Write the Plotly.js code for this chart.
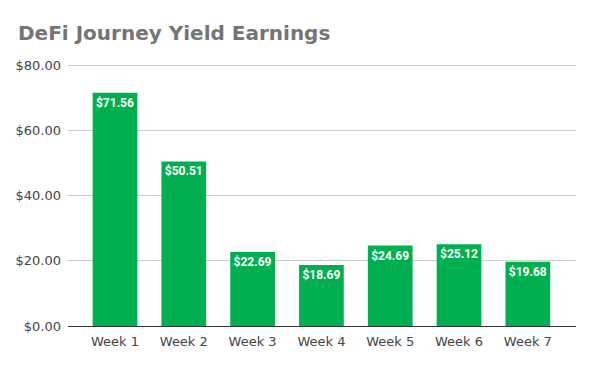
<!DOCTYPE html>
<html><head><meta charset="utf-8">
<script src="https://cdn.plot.ly/plotly-3.0.1.min.js"></script>
<style>body{margin:0;padding:0;background:#fff}#chart{width:593px;height:367px}</style>
</head><body><div id="chart"></div>
<script>
const weeks = ["Week 1","Week 2","Week 3","Week 4","Week 5","Week 6","Week 7"];
const earnings = [71.56, 50.51, 22.69, 18.69, 24.69, 25.12, 19.68];
const yTicks = [0, 20, 40, 60, 80];
const yTickLabels = ["$0.00","$20.00","$40.00","$60.00","$80.00"];

Plotly.newPlot('chart', [{
  type: 'bar',
  x: weeks,
  y: earnings,
  width: 0.65,
  marker: {color: '#00b050'},
  text: earnings.map(v => '$' + v.toFixed(2)),
  textposition: 'inside',
  insidetextanchor: 'end',
  textangle: 0,
  textfont: {family: 'Roboto, sans-serif', size: 12, color: '#ffffff', weight: 'bold'},
  hoverinfo: 'none'
}], {
  width: 593, height: 367,
  margin: {l: 68, r: 17, t: 64, b: 41},
  paper_bgcolor: '#fff', plot_bgcolor: '#fff',
  title: {text: 'DeFi Journey Yield Earnings', x: 18/593, xanchor: 'left', y: 1 - 33/367, yanchor: 'middle',
    font: {family: 'DejaVu Sans, sans-serif', size: 20, color: '#757575', weight: 'bold'}},
  xaxis: {range: [-0.683, 6.70], showgrid: false, zeroline: false, showline: false,
    ticks: '', ticklabelstandoff: 6,
    tickfont: {family: 'DejaVu Sans, sans-serif', size: 13, color: '#444'}},
  yaxis: {range: [0, 80.4], tickvals: yTicks, ticktext: yTickLabels, showgrid: true, gridcolor: '#cccccc',
    zeroline: true, zerolinecolor: '#333', zerolinewidth: 1, showline: false, ticks: '',
    ticklabelstandoff: 6,
    tickfont: {family: 'DejaVu Sans, sans-serif', size: 13, color: '#444'}},
  showlegend: false, bargap: 0.35
}, {displayModeBar: false, staticPlot: true});
</script></body></html>
